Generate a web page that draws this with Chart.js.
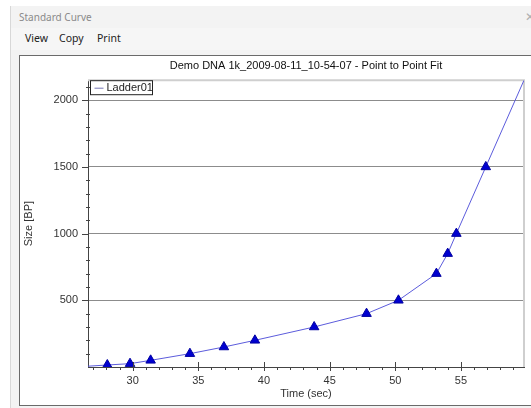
<!DOCTYPE html>
<html>
<head>
<meta charset="utf-8">
<script src="https://cdn.jsdelivr.net/npm/chart.js@4/dist/chart.umd.min.js"></script>
<style>
  html, body { margin: 0; padding: 0; background: #ffffff; }
  body { width: 531px; height: 408px; position: relative; overflow: hidden; font-family: "Noto Sans", "Open Sans", sans-serif; }
  #win { position: absolute; left: 10px; top: 6px; width: 530px; height: 402px; background: #f3f3f3; border-left: 1px solid #d8d8d8; }
  #caption { position: absolute; left: 8px; top: 4px; font-size: 10px; color: #8a8a8a; }
  #close { position: absolute; right: 6px; top: 2px; font-size: 12px; color: #b0b0b0; }
  #menu { position: absolute; left: 0; top: 22px; width: 530px; height: 22px; background: #f6f6f6; }
  #menu span { position: absolute; top: 3px; font-size: 10.5px; color: #222; }
  #frame { position: absolute; left: 19px; top: 55px; width: 520px; height: 349px; background: #ffffff; border: 1px solid #6a6a6a; border-right: none; }
  #chartBox { position: absolute; left: 20px; top: 56px; width: 511px; height: 348px; }
</style>
</head>
<body>
<div id="win">
  <div id="caption">Standard Curve</div>
  <div id="close">✕</div>
  <div id="menu">
    <span style="left:14px">View</span>
    <span style="left:48px">Copy</span>
    <span style="left:86px">Print</span>
  </div>
</div>
<div id="frame"></div>
<div id="chartBox"><canvas id="c" width="511" height="348"></canvas></div>
<script>
// Ladder fragment sizes (bp) and their migration times (sec)
const ladderSizes = [15, 25, 50, 100, 150, 200, 300, 400, 500, 700, 850, 1000, 1500];
const ladderTimes = [28.07, 29.80, 31.37, 34.36, 36.95, 39.31, 43.82, 47.81, 50.24, 53.13, 53.99, 54.65, 56.89];
// Ends of the point-to-point fit, extended to the axis limits
const fitStart = { time: 26.6, size: 6 };
const fitEnd = { time: 59.8, size: 2150 };
const xTicks = [30, 35, 40, 45, 50, 55];
const yTicks = [500, 1000, 1500, 2000];
const seriesName = 'Ladder01';

const points = [{ x: fitStart.time, y: fitStart.size }]
  .concat(ladderTimes.map((t, i) => ({ x: t, y: ladderSizes[i] })))
  .concat([{ x: fitEnd.time, y: fitEnd.size }]);
const lastIndex = points.length - 1;

const FONT = 'Liberation Sans, Arial, sans-serif';

// Plot frame, minor/major ticks and the boxed legend
const decorations = {
  id: 'decorations',
  beforeDatasetsDraw(chart) {
    const { ctx, chartArea: a } = chart;
    ctx.save();
    ctx.strokeStyle = '#cfcfcf';
    ctx.lineWidth = 2;
    ctx.beginPath();
    ctx.moveTo(a.left, a.top);
    ctx.lineTo(a.right, a.top);
    ctx.lineTo(a.right, a.bottom);
    ctx.stroke();
    ctx.restore();
  },
  afterDraw(chart) {
    const { ctx, chartArea: a, scales: { x, y } } = chart;
    ctx.save();
    ctx.strokeStyle = '#444';
    ctx.lineWidth = 1;
    ctx.beginPath();
    for (let v = Math.ceil(x.min); v <= x.max; v++) {
      const px = Math.round(x.getPixelForValue(v)) + 0.5;
      if (v % 5 === 0) { ctx.moveTo(px, a.bottom - 5); ctx.lineTo(px, a.bottom + 4); }
      else { ctx.moveTo(px, a.bottom); ctx.lineTo(px, a.bottom + 3); }
    }
    for (let v = 100; v <= y.max; v += 100) {
      const py = Math.round(y.getPixelForValue(v)) + 0.5;
      if (v % 500 === 0) { ctx.moveTo(a.left - 6, py); ctx.lineTo(a.left, py); }
      else { ctx.moveTo(a.left - 2, py); ctx.lineTo(a.left + 2, py); }
    }
    ctx.stroke();

    // legend box
    const bx = a.left + 2.5, by = a.top + 0.5, bw = 62, bh = 14;
    ctx.fillStyle = '#ffffff';
    ctx.fillRect(bx, by, bw, bh);
    ctx.strokeStyle = '#222';
    ctx.strokeRect(bx, by, bw, bh);
    ctx.strokeStyle = '#7474b4';
    ctx.beginPath();
    ctx.moveTo(bx + 4, by + 7.5);
    ctx.lineTo(bx + 13, by + 7.5);
    ctx.stroke();
    ctx.fillStyle = '#222';
    ctx.font = '11px ' + FONT;
    ctx.textBaseline = 'middle';
    ctx.fillText(seriesName, bx + 16, by + 7.5);
    ctx.restore();
  }
};

new Chart(document.getElementById('c'), {
  type: 'scatter',
  data: {
    datasets: [{
      label: seriesName,
      data: points,
      showLine: true,
      borderColor: '#5c5cdc',
      borderWidth: 1,
      pointStyle: 'triangle',
      pointRadius: ctx => (ctx.dataIndex === 0 || ctx.dataIndex === lastIndex) ? 0 : 5.5,
      pointBackgroundColor: '#0000d0',
      pointBorderColor: '#0000a0',
      pointBorderWidth: 1,
      pointHoverRadius: 0
    }]
  },
  options: {
    responsive: false,
    animation: false,
    layout: { padding: { left: 0, right: 7, top: 0, bottom: 0 } },
    plugins: {
      legend: { display: false },
      tooltip: { enabled: false },
      title: {
        display: true,
        text: 'Demo DNA 1k_2009-08-11_10-54-07 - Point to Point Fit',
        fullSize: false,
        color: '#111',
        font: { family: FONT, size: 11, weight: 'normal' },
        padding: { top: 3, bottom: 8 }
      }
    },
    scales: {
      x: {
        type: 'linear',
        min: fitStart.time,
        max: fitEnd.time,
        afterBuildTicks: s => { s.ticks = xTicks.map(v => ({ value: v })); },
        afterFit: s => { s.height = 37; },
        ticks: { color: '#333', font: { family: FONT, size: 11 }, padding: 7, callback: v => String(v) },
        grid: { display: false, drawTicks: false },
        border: { display: true, color: '#444', width: 1 },
        title: { display: true, text: 'Time (sec)', color: '#333', font: { family: FONT, size: 11 }, padding: { top: 0, bottom: 3 } }
      },
      y: {
        type: 'linear',
        min: 0,
        max: fitEnd.size,
        afterBuildTicks: s => { s.ticks = yTicks.map(v => ({ value: v })); },
        afterFit: s => { s.width = 68; },
        ticks: { color: '#333', font: { family: FONT, size: 11 }, padding: 10, callback: v => String(v) },
        grid: { color: '#8c8c8c', lineWidth: 1, drawTicks: false },
        border: { display: true, color: '#444', width: 1 },
        title: { display: true, text: 'Size [BP]', color: '#333', font: { family: FONT, size: 11 }, padding: { top: 2, bottom: 0 } }
      }
    }
  },
  plugins: [decorations]
});
</script>
</body>
</html>
